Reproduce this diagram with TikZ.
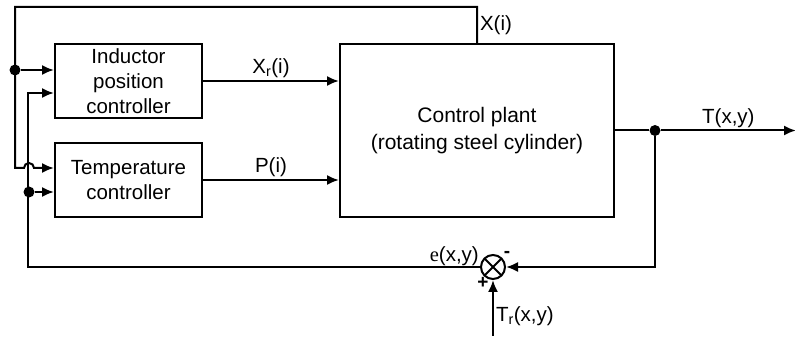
\documentclass[tikz,border=0pt]{standalone}
\usepackage{fontspec}
\setmainfont{Liberation Sans}
\newfontfamily\eface{Liberation Serif}
\usetikzlibrary{arrows.meta,positioning}

\tikzset{
  line/.style={line width=2pt},
  sig/.style={line, -{Latex[length=12pt,width=10pt]}},
  blockbox/.style={draw, line width=2pt, minimum width=147pt, minimum height=74pt,
    align=center, inner sep=0pt, font=\fontsize{20.5}{25}\selectfont},
  plantbox/.style={draw, line width=2pt, minimum width=274pt, minimum height=173pt,
    align=center, inner sep=0pt, font=\fontsize{21}{27}\selectfont},
  sumnode/.style={draw, circle, line width=2pt, minimum size=24pt, inner sep=0pt,
    path picture={\draw[line width=2pt]
      (path picture bounding box.north west) -- (path picture bounding box.south east)
      (path picture bounding box.south west) -- (path picture bounding box.north east);}},
  dotnode/.style={circle, fill, minimum size=11pt, inner sep=0pt},
  lbl/.style={font=\fontsize{20.5}{24}\selectfont, inner sep=2pt},
  signlbl/.style={font=\fontsize{19}{20}\selectfont\bfseries, inner sep=0pt}
}

\begin{document}
\begin{tikzpicture}[x=1pt,y=1pt]
\useasboundingbox (0,0) rectangle (795,-344);

% blocks
\node[blockbox] (ipc) at (128.5,-81) {Inductor\\position\\controller};
\node[blockbox] (tc) at (128.5,-180) {Temperature\\controller};
\node[plantbox] (plant) at (477,-130.5) {Control plant\\(rotating steel cylinder)};
\node[sumnode] (sum) at (493,-267) {};

% branch points
\node[dotnode] (dx) at (15,-70) {};
\node[dotnode] (de) at (29,-192) {};
\node[dotnode] (dt) at ([xshift=40pt]plant.east) {};
\coordinate (tend) at ([xshift=181pt]plant.east);
\coordinate (trin) at (493,-336);
\coordinate (xtop) at (477,-7);
\coordinate (ltop) at (15,-7);

% forward path
\draw[sig] (ipc.east) -- node[lbl,above] {X\textsubscript{r}(i)} (ipc.east -| plant.west);
\draw[sig] (tc.east) -- node[lbl,above] {P(i)} (tc.east -| plant.west);
\draw[line] (plant.east) -- (dt);
\draw[sig] (dt) -- node[lbl,above] {T(x,y)} (tend);

% temperature feedback
\draw[sig] (dt) |- (sum.east);
\draw[sig] (trin) -- node[lbl,right,pos=0.35] {T\textsubscript{r}(x,y)} (sum.south);
\draw[sig] (sum.west) -| ([xshift=-26pt,yshift=-12pt]ipc.west) -- ([yshift=-12pt]ipc.west);
\draw[sig] (de) -- (de -| tc.west);
\node[lbl, anchor=south east, inner sep=1pt] at (sum.west) {{\eface e}(x,y)};
\node[signlbl] at ([xshift=-10pt,yshift=-16pt]sum.center) {+};
\node[signlbl] at ([xshift=14pt,yshift=13pt]sum.center) {-};

% position feedback
\draw[sig] (plant.north -| xtop) -- node[lbl,right] {X(i)} (xtop) -- (ltop)
  -- (15,-168) -- (24,-168) arc[start angle=180,end angle=0,radius=5pt]
  -- ([yshift=12pt]tc.west);
\draw[sig] (dx) -- (dx -| ipc.west);

\end{tikzpicture}
\end{document}
